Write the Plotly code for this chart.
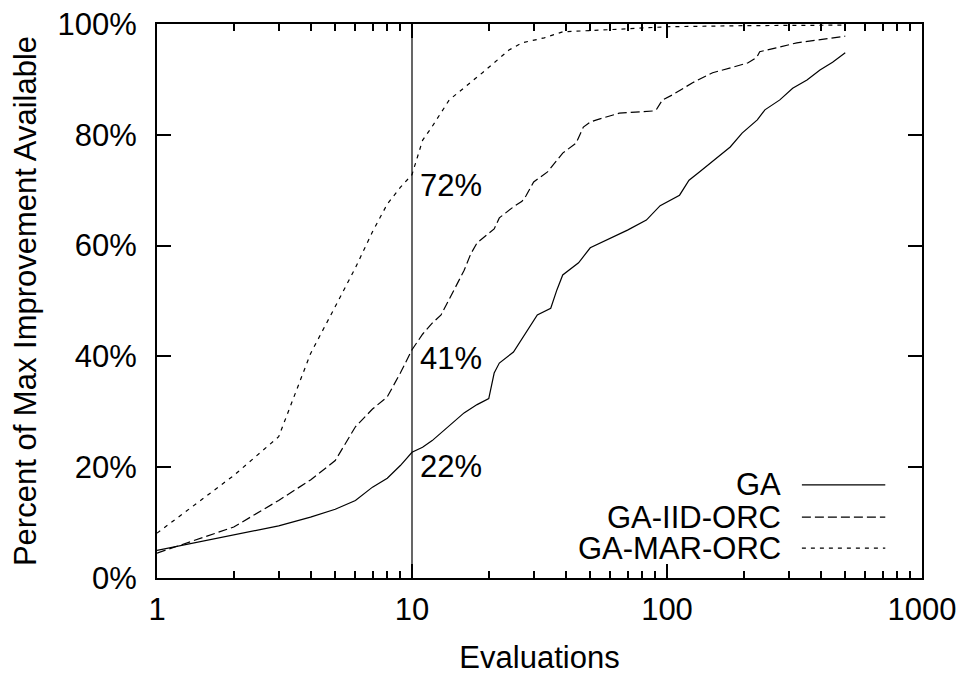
import numpy as np
import plotly.graph_objects as go

# ---------------- data ----------------
series_names = ["GA", "GA-IID-ORC", "GA-MAR-ORC"]

ga_x = [1, 2, 3, 4, 5, 6, 7, 8, 9, 10, 11, 12, 14, 16, 18, 20, 21, 22, 25, 28, 31, 35, 37, 39,
        45, 50, 58, 70, 83, 94, 112, 122, 134, 154, 177, 197, 226, 242, 277, 311, 354, 398, 446, 500]
ga_y = [5.0, 7.8, 9.4, 11.0, 12.4, 14.0, 16.4, 18.0, 20.3, 22.7, 23.6, 24.8, 27.5, 29.8, 31.3, 32.4,
        37.0, 38.8, 40.8, 44.3, 47.5, 48.7, 52.0, 54.7, 56.9, 59.6, 61.0, 62.8, 64.6, 67.2, 69.1,
        71.8, 73.3, 75.5, 77.8, 80.3, 82.7, 84.5, 86.3, 88.4, 89.9, 91.7, 93.1, 94.8]

iid_x = [1, 2, 3, 4, 5, 6, 7, 8, 9, 10, 11, 12, 13, 14, 15, 16, 17, 18, 20, 21, 22, 25, 27, 28,
         30, 34, 39, 44, 47, 50, 53, 65, 88, 91, 96, 105, 126, 151, 181, 208, 225, 231, 268, 323, 387, 500]
iid_y = [4.5, 9.2, 14.0, 17.7, 21.2, 27.3, 30.5, 32.7, 37.0, 41.2, 44.0, 46.0, 47.5, 50.5, 53.0,
         55.5, 58.5, 60.5, 62.3, 63.0, 65.0, 67.0, 68.0, 69.0, 71.5, 73.3, 76.7, 78.5, 81.4, 82.3,
         82.7, 83.9, 84.3, 84.6, 86.3, 87.2, 89.4, 91.2, 92.2, 93.0, 94.0, 95.0, 95.7, 96.6, 97.1, 97.8]

mar_x = [1, 2, 3, 4, 5, 6, 7, 8, 9, 10, 11, 12, 14, 17, 19, 24, 27, 33, 39, 55, 100, 200, 500]
mar_y = [8.1, 18.5, 25.5, 40.5, 49.0, 56.0, 62.5, 67.5, 70.5, 72.8, 79.0, 81.5, 86.3, 89.4, 91.3,
         95.3, 96.6, 97.5, 98.6, 98.9, 99.5, 99.7, 99.8]

marker_x = 10
marker_labels = ["72%", "41%", "22%"]
marker_label_y = [70.8, 39.7, 20.2]

x_tickvals = [1, 10, 100, 1000]
x_ticktext = ["1", "10", "100", "1000"]
x_minor = [m * d for d in (1, 10, 100) for m in range(2, 10)]
y_tickvals = [0, 20, 40, 60, 80, 100]
y_ticktext = ["0%", "20%", "40%", "60%", "80%", "100%"]

# ---------------- figure ----------------
FONT = "Liberation Sans, Arial, Helvetica, sans-serif"
FS = 31
dashes = ["solid", "9px,4px", "4px,5px"]

fig = go.Figure()
for name, xs, ys, dash in zip(series_names, [ga_x, iid_x, mar_x], [ga_y, iid_y, mar_y], dashes):
    fig.add_trace(go.Scatter(x=xs, y=ys, mode="lines", name=name, showlegend=False,
                             line=dict(color="black", width=1.2, dash=dash)))

# vertical marker line at 10 evaluations
fig.add_trace(go.Scatter(x=[marker_x, marker_x], y=[0, 100], mode="lines", showlegend=False,
                         line=dict(color="black", width=1.2), hoverinfo="skip"))

for lab, yv in zip(marker_labels, marker_label_y):
    fig.add_annotation(x=np.log10(marker_x), y=yv, xref="x", yref="y", text=lab, showarrow=False,
                       xanchor="left", yanchor="middle", xshift=6,
                       font=dict(family=FONT, size=FS, color="black"))

# manual legend (text right, sample to the right), gnuplot style
leg_y = [0.168, 0.110, 0.054]
for name, dash, yy in zip(series_names, dashes, leg_y):
    fig.add_annotation(x=0.818, y=yy, xref="paper", yref="paper", text=name, showarrow=False,
                       xanchor="right", yanchor="middle",
                       font=dict(family=FONT, size=FS, color="black"))
    fig.add_shape(type="line", xref="paper", yref="paper", x0=0.843, x1=0.952, y0=yy, y1=yy,
                  line=dict(color="black", width=1.2, dash=dash))

axis_common = dict(showline=True, linecolor="black", linewidth=2, mirror="allticks",
                   ticks="inside", ticklen=14, tickwidth=2, tickcolor="black",
                   showgrid=False, zeroline=False,
                   tickfont=dict(family=FONT, size=FS, color="black"))

fig.update_xaxes(type="log", range=[0, 3], tickvals=x_tickvals, ticktext=x_ticktext,
                 minor=dict(tickvals=x_minor, ticks="inside", ticklen=7, tickwidth=2,
                            tickcolor="black", showgrid=False),
                 title=dict(text="Evaluations", font=dict(family=FONT, size=FS, color="black"),
                            standoff=21),
                 ticklabelstandoff=3,
                 **axis_common)
fig.update_yaxes(range=[0, 100], tickvals=y_tickvals, ticktext=y_ticktext,
                 title=dict(text="Percent of Max Improvement Available",
                            font=dict(family=FONT, size=FS, color="black"), standoff=12),
                 ticklabelstandoff=12,
                 **axis_common)

fig.update_layout(width=968, height=675, margin=dict(l=157, r=46, t=24, b=97, autoexpand=False),
                  plot_bgcolor="white", paper_bgcolor="white",
                  font=dict(family=FONT, size=FS, color="black"))

fig.write_html("out.html", config={"displayModeBar": False},
               post_script="document.body.style.margin='0';")
